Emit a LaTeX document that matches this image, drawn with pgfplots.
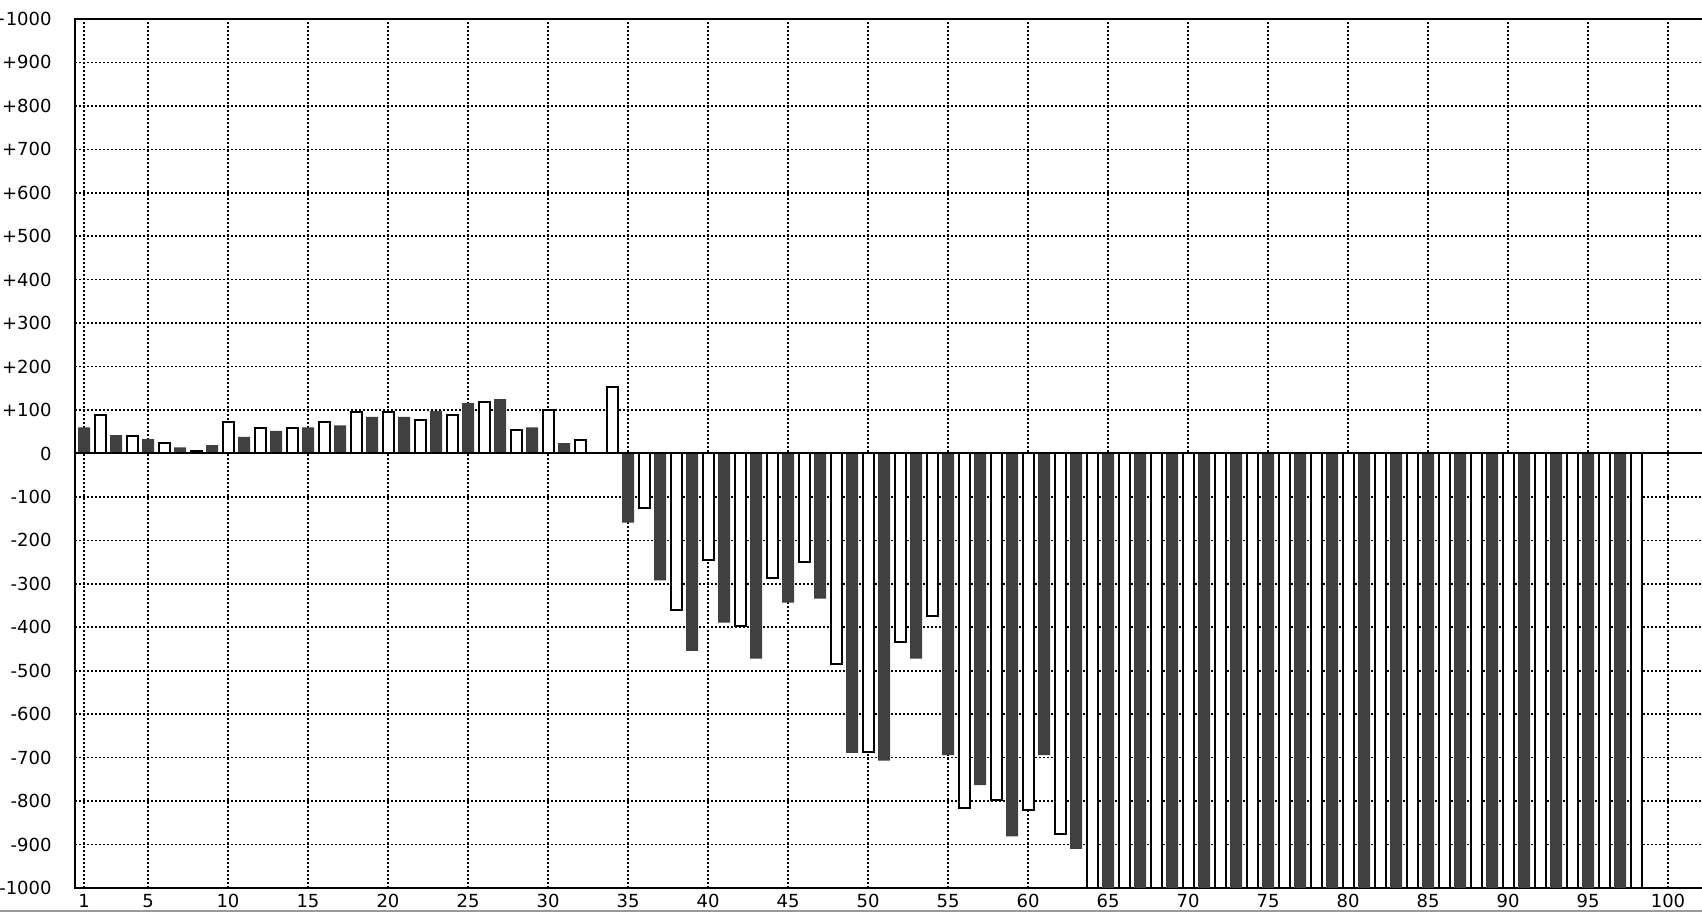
\documentclass[border=0pt]{standalone}
\usepackage{fontspec}
\setmainfont{DejaVu Sans}
\usepackage{pgfplots}
\pgfplotsset{compat=1.18}
\definecolor{darkbar}{HTML}{404040}
\begin{document}
\begin{tikzpicture}
\begin{axis}[
  scale only axis, width=815.5pt, height=434.5pt,
  xmin=0.4375, xmax=102.375, ymin=-1000, ymax=1000,
  xtick={1,5,10,15,20,25,30,35,40,45,50,55,60,65,70,75,80,85,90,95,100},
  xticklabels={1,5,10,15,20,25,30,35,40,45,50,55,60,65,70,75,80,85,90,95,100},
  ytick={-1000,-900,-800,-700,-600,-500,-400,-300,-200,-100,0,100,200,300,400,500,600,700,800,900,1000},
  yticklabels={-1000,-900,-800,-700,-600,-500,-400,-300,-200,-100,0,+100,+200,+300,+400,+500,+600,+700,+800,+900,+1000},
  ybar, bar width=6pt, bar shift=0pt,
  grid=major,
  grid style={black, line width=0.8pt, dash pattern=on 0.8pt off 1.2pt},
  major tick length=0pt,
  axis line style={line width=1.2pt},
  tick label style={font=\fontsize{9}{10}\selectfont},
  /pgf/number format/assume math mode=true,
  xticklabel style={inner sep=0pt, yshift=-2.75pt, anchor=north},
  yticklabel style={inner sep=0pt, xshift=-11.5pt, anchor=east},
  clip=true,
]
\addplot[fill=darkbar, draw=none] coordinates {
(1,60) (3,42) (5,33) (7,14) (9,19) (11,38) (13,52) (15,60) (17,65) (19,84)
(21,84) (23,98) (25,116) (27,125) (29,60) (31,24) (33,0) (35,-159) (37,-292) (39,-454)
(41,-389) (43,-472) (45,-343) (47,-334) (49,-689) (51,-707) (53,-472) (55,-694) (57,-763) (59,-881)
(61,-694) (63,-910) (65,-1000) (67,-1000) (69,-1000) (71,-1000) (73,-1000) (75,-1000) (77,-1000) (79,-1000)
(81,-1000) (83,-1000) (85,-1000) (87,-1000) (89,-1000) (91,-1000) (93,-1000) (95,-1000) (97,-1000)
};
\addplot[fill=white, draw=black, line width=1pt, bar width=5.5pt] coordinates {
(2,88) (4,40) (6,23) (8,5) (10,73) (12,59) (14,59) (16,73) (18,96) (20,96)
(22,78) (24,88) (26,119) (28,54) (30,100) (32,31) (34,152) (36,-125) (38,-360) (40,-245)
(42,-397) (44,-286) (46,-250) (48,-485) (50,-687) (52,-434) (54,-374) (56,-816) (58,-798) (60,-821)
(62,-876) (64,-1000) (66,-1000) (68,-1000) (70,-1000) (72,-1000) (74,-1000) (76,-1000) (78,-1000) (80,-1000)
(82,-1000) (84,-1000) (86,-1000) (88,-1000) (90,-1000) (92,-1000) (94,-1000) (96,-1000) (98,-1000)
};
\draw[line width=1pt] (axis cs:0.4375,0) -- (axis cs:102.375,0);
\coordinate (sw) at (rel axis cs:0,0);
\end{axis}
\draw[black!40, line width=1.2pt] ([shift={(-37.5pt,-11.5pt)}]sw) -- ++(851pt,0);
\pgfresetboundingbox
\path[use as bounding box] ([shift={(-37.5pt,-13pt)}]sw) rectangle ++(851pt,457pt);
\end{tikzpicture}
\end{document}
